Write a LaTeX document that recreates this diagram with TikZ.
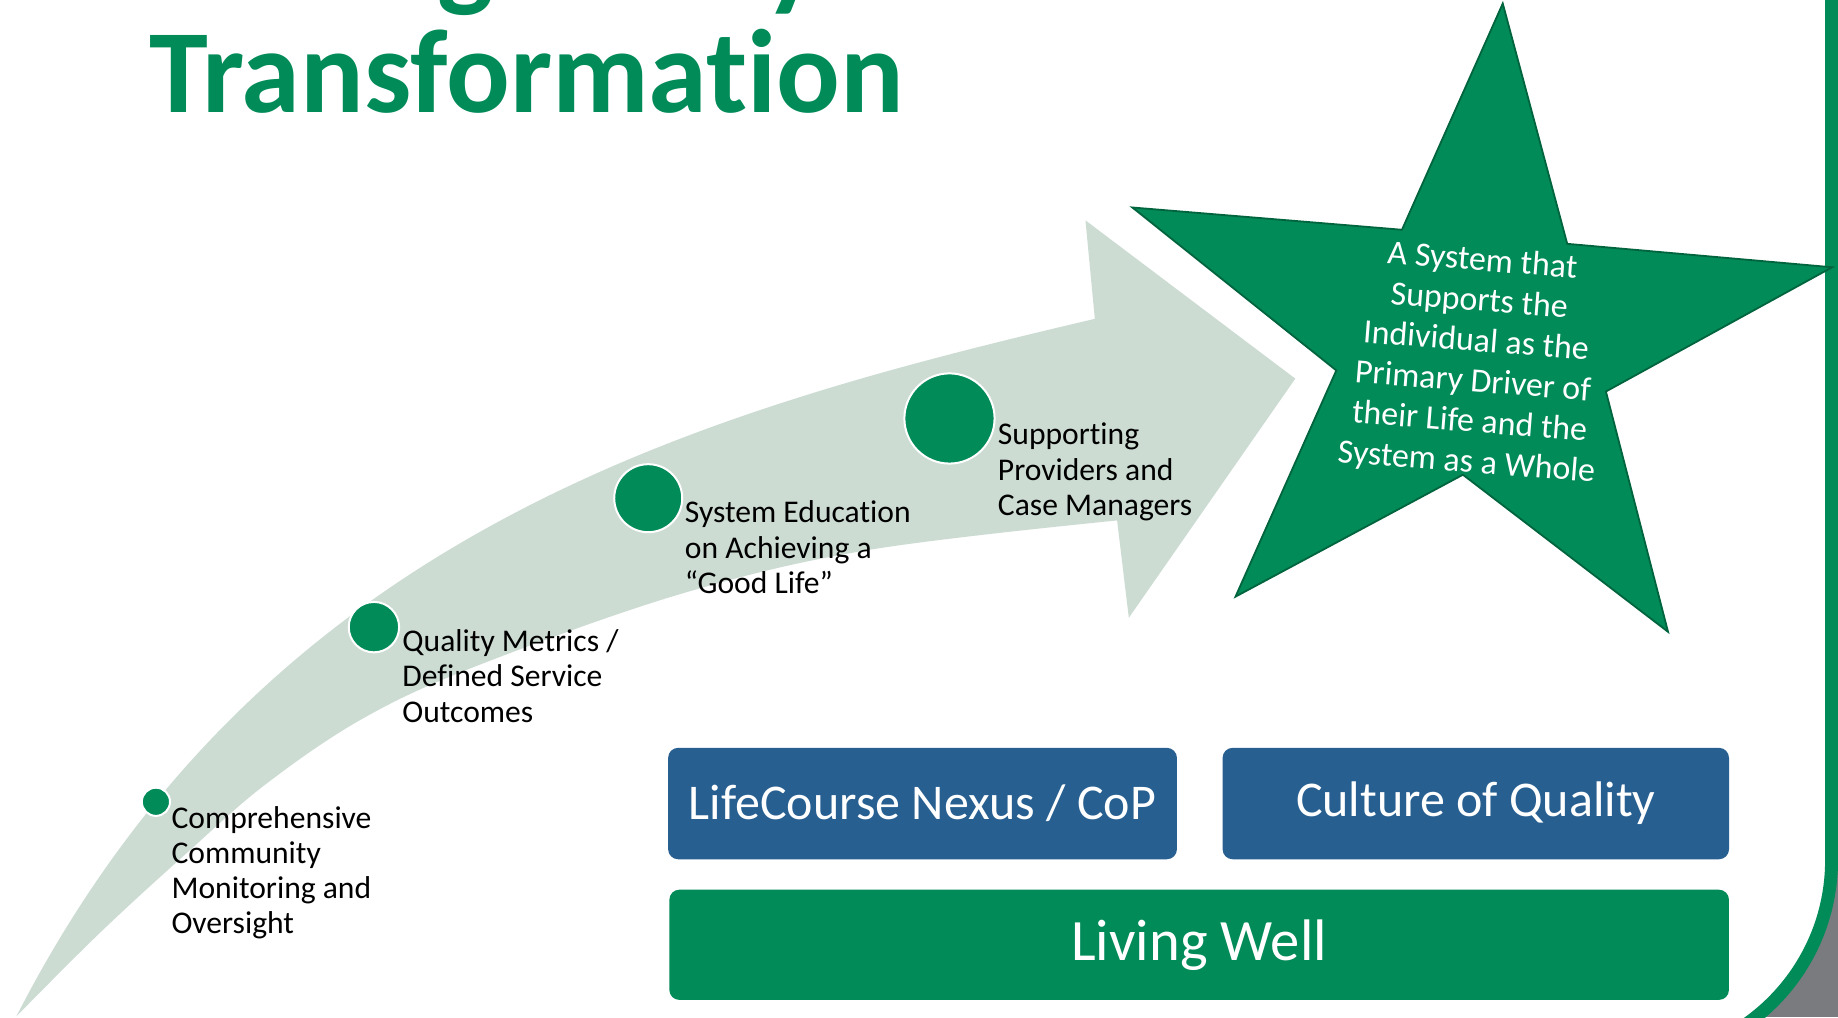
\documentclass[tikz,border=0pt]{standalone}
\usepackage{fontspec}
\setmainfont{Carlito}[Ligatures={NoCommon,NoContextual}]
\definecolor{brandgreen}{RGB}{0,139,89}
\definecolor{stargreen}{RGB}{0,139,89}
\definecolor{stardark}{RGB}{0,100,62}
\definecolor{boxblue}{RGB}{39,95,145}
\definecolor{arrowfill}{RGB}{204,220,211}
\definecolor{cornergray}{RGB}{122,123,127}
\begin{document}
\begin{tikzpicture}[x=0.5861pt, y=-0.5861pt,
  titletext/.style={inner sep=0pt, text=brandgreen, font=\fontsize{59.4pt}{65pt}\selectfont\bfseries},
  greendot/.style={circle, fill=brandgreen, draw=white, line width=1pt, inner sep=0pt},
  steptext/.style={inner sep=0pt, anchor=base west, text=black, font=\fontsize{15.8pt}{17.6pt}\selectfont},
  startext/.style={inner sep=0pt, anchor=base, text=white, rotate=-4.5, font=\fontsize{17pt}{20.2pt}\selectfont},
  bluebox/.style={rectangle, rounded corners=5pt, fill=boxblue, text=white, inner sep=0pt,
    minimum height=55.7pt, font=\fontsize{25pt}{30pt}\selectfont},
  greenbox/.style={rectangle, rounded corners=5pt, fill=brandgreen, text=white, inner sep=0pt,
    minimum height=55.1pt, font=\fontsize{29.3pt}{35pt}\selectfont}
]
\useasboundingbox (0,0) rectangle (1568,868);
\clip (0,0) rectangle (1568,868);
\fill[white] (0,0) rectangle (1568,868);
% slide frame corner
\fill[cornergray] (1300,650) rectangle (1568,868);
\filldraw[fill=white, draw=brandgreen, line width=6.45pt, rounded corners=100.2pt]
  (-400,-400) rectangle (1562.5,904.7);

% title (first line cut off above the picture)
\node[titletext, anchor=base west] (frag1) at (373,-4) {g};
\node[titletext, anchor=base west] (frag2) at (652,-4) {y};
\node[titletext, anchor=base west] (title) at (127,96) {Transformation};

% curved arrow
\fill[arrowfill] (14,867) .. controls (225,455) and (593,352) .. (934,272)
  -- (926,188) -- (1105,323) -- (963,527) -- (953,444)
  -- plot[smooth, tension=0.6] coordinates {(953,444) (742,469) (583,506) (412,566) (313,611) (228,668) (159,728) (85,796) (14,867)}
  -- cycle;

% star
\filldraw[fill=stargreen, draw=stardark, line width=0.9pt, line join=miter]
  (1282,3) -- (1337,208) -- (1563,228) -- (1370,334) -- (1423,539) -- (1248,405)
  -- (1054,509) -- (1140,316) -- (966,177) -- (1196,196) -- cycle;
\node[startext] (goal) at (1264,231) {\begin{tabular}[t]{@{}c@{}}A System that\\Supports the\\Individual as the\\Primary Driver of\\their Life and the\\System as a Whole\end{tabular}};

% milestones
\node[greendot, minimum size=14.1pt] (c1) at (133,684) {};
\node[greendot, minimum size=25.2pt] (c2) at (319,535) {};
\node[greendot, minimum size=34pt] (c3) at (553,425) {};
\node[greendot, minimum size=45.1pt] (c4) at (810,357) {};

\node[steptext] (t1) at (146,706.6) {\begin{tabular}[t]{@{}l@{}}Comprehensive\\Community\\Monitoring and\\Oversight\end{tabular}};
\node[steptext] (t2) at (343,556) {\begin{tabular}[t]{@{}l@{}}Quality Metrics /\\Defined Service\\Outcomes\end{tabular}};
\node[steptext] (t3) at (584,446) {\begin{tabular}[t]{@{}l@{}}System Education\\on Achieving a\\“Good Life”\end{tabular}};
\node[steptext] (t4) at (851,379.6) {\begin{tabular}[t]{@{}l@{}}Supporting\\Providers and\\Case Managers\end{tabular}};

% foundation boxes
\node[bluebox, minimum width=254.4pt] (nexus) at (787,685.5) {LifeCourse Nexus / CoP};
\node[bluebox, minimum width=253.2pt] (culture) at (1259,685.5) {Culture of Quality};
\node[greenbox, minimum width=529.8pt] (living) at (1023,806) {Living Well};
\end{tikzpicture}
\end{document}
